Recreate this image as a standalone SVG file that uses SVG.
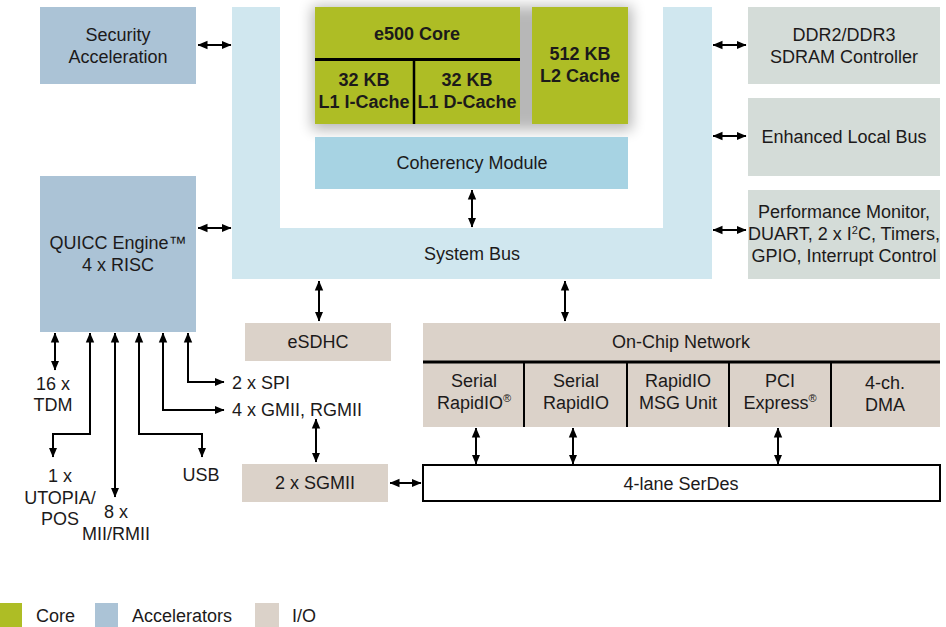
<svg xmlns="http://www.w3.org/2000/svg" width="946" height="627" viewBox="0 0 946 627">
<defs>
<style>
text{font-family:"Liberation Sans",Arial,sans-serif;font-size:18px;fill:#1c1a1a;text-anchor:middle}
.b{font-weight:bold}
.l{text-anchor:start}
.core{fill:#aebd25}
.acc{fill:#abc3d6}
.io{fill:#dbd2c9}
.gry{fill:#d4dcd8}
.bus{fill:#d0e7ef}
.coh{fill:#a7d3e3}
.c path{fill:none;stroke:#000;stroke-width:2;marker-start:url(#ah);marker-end:url(#ah)}
</style>
<marker id="ah" viewBox="0 0 10 10" refX="9.5" refY="5" markerWidth="10" markerHeight="10" markerUnits="userSpaceOnUse" orient="auto-start-reverse">
<path d="M0,0.8 L10,5 L0,9.2 z" fill="#000"/>
</marker>
<filter id="sh" x="-20%" y="-30%" width="140%" height="160%">
<feGaussianBlur stdDeviation="7"/>
</filter>
</defs>
<rect width="946" height="627" fill="#fff"/>

<g id="system-bus">
<path class="bus" d="M232,7 H280 V228 H663 V7 H712 V279 H232 Z"/>
<text x="472" y="260">System Bus</text>
</g>

<rect x="312" y="6" width="320" height="124" fill="#000" opacity="0.28" filter="url(#sh)"/>

<g id="e500-core">
<rect class="core" x="315" y="7" width="205" height="117"/>
<path d="M315,59.5 H520" stroke="#000" stroke-width="3"/>
<path d="M414,59 V124" stroke="#000" stroke-width="2.5"/>
<text class="b" x="417" y="40">e500 Core</text>
<text class="b" x="364" y="86">32 KB</text>
<text class="b" x="364" y="108">L1 I-Cache</text>
<text class="b" x="467" y="86">32 KB</text>
<text class="b" x="467" y="108">L1 D-Cache</text>
</g>

<g id="l2-cache">
<rect class="core" x="532" y="7" width="96" height="117"/>
<text class="b" x="580" y="60">512 KB</text>
<text class="b" x="580" y="82">L2 Cache</text>
</g>

<g id="coherency-module">
<rect class="coh" x="315" y="137" width="313" height="52"/>
<text x="472" y="169">Coherency Module</text>
</g>

<g id="security-acceleration">
<rect class="acc" x="40" y="7" width="156" height="77"/>
<text x="118" y="41">Security</text>
<text x="118" y="63">Acceleration</text>
</g>

<g id="quicc-engine">
<rect class="acc" x="40" y="176" width="156" height="156"/>
<text x="118" y="249">QUICC Engine™</text>
<text x="118" y="271">4 x RISC</text>
</g>

<g id="ddr-controller">
<rect class="gry" x="748" y="7" width="192" height="77"/>
<text x="844" y="41">DDR2/DDR3</text>
<text x="844" y="63">SDRAM Controller</text>
</g>

<g id="enhanced-local-bus">
<rect class="gry" x="748" y="98" width="192" height="78"/>
<text x="844" y="143">Enhanced Local Bus</text>
</g>

<g id="performance-monitor">
<rect class="gry" x="748" y="190" width="192" height="89"/>
<text x="844" y="218">Performance Monitor,</text>
<text x="844" y="240">DUART, 2 x I<tspan font-size="11" dy="-6">2</tspan><tspan dy="6">C, Timers,</tspan></text>
<text x="844" y="262">GPIO, Interrupt Control</text>
</g>

<g id="esdhc">
<rect class="io" x="245" y="323" width="146" height="38"/>
<text x="318" y="348">eSDHC</text>
</g>

<g id="on-chip-network">
<rect class="io" x="423" y="323" width="517" height="104"/>
<path d="M423,362 H940" stroke="#000" stroke-width="3"/>
<path d="M524,362 V427 M627,362 V427 M729,362 V427 M831,362 V427" stroke="#000" stroke-width="2"/>
<text x="681" y="348">On-Chip Network</text>
<text x="474" y="387">Serial</text>
<text x="474" y="409">RapidIO<tspan font-size="11" dy="-7">®</tspan></text>
<text x="576" y="387">Serial</text>
<text x="576" y="409">RapidIO</text>
<text x="678" y="387">RapidIO</text>
<text x="678" y="409">MSG Unit</text>
<text x="780" y="387">PCI</text>
<text x="780" y="409">Express<tspan font-size="11" dy="-7">®</tspan></text>
<text x="885" y="389">4-ch.</text>
<text x="885" y="411">DMA</text>
</g>

<g id="serdes">
<rect x="423" y="465" width="517" height="36" fill="#fff" stroke="#000" stroke-width="2"/>
<text x="681" y="490">4-lane SerDes</text>
</g>

<g id="sgmii">
<rect class="io" x="242" y="464" width="146" height="38"/>
<text x="315" y="489">2 x SGMII</text>
</g>

<g id="io-labels">
<text x="53" y="390">16 x</text>
<text x="53" y="411">TDM</text>
<text x="60" y="482">1 x</text>
<text x="60" y="504">UTOPIA/</text>
<text x="60" y="525">POS</text>
<text x="116" y="518">8 x</text>
<text x="116" y="540">MII/RMII</text>
<text x="201" y="481">USB</text>
<text class="l" x="232" y="389">2 x SPI</text>
<text class="l" x="232" y="416">4 x GMII, RGMII</text>
</g>

<g id="legend">
<rect class="core" x="0" y="603" width="22" height="24"/>
<text class="l" x="36" y="622">Core</text>
<rect class="acc" x="95" y="603" width="23" height="24"/>
<text class="l" x="132" y="622">Accelerators</text>
<rect class="io" x="255" y="603" width="24" height="24"/>
<text class="l" x="292" y="622">I/O</text>
</g>

<g id="connectors" class="c">
<path d="M198,45 H231"/>
<path d="M198,228 H231"/>
<path d="M713,45 H746"/>
<path d="M713,136 H746"/>
<path d="M713,230 H746"/>
<path d="M472,190 V227"/>
<path d="M319,281 V321"/>
<path d="M565,281 V321"/>
<path d="M316,419 V462"/>
<path d="M390,483 H421"/>
<path d="M476,428 V464"/>
<path d="M573,428 V464"/>
<path d="M778,428 V464"/>
<path d="M55,333 V370"/>
<path d="M90,333 V434 H53 V457"/>
<path d="M115,333 V497"/>
<path d="M139,333 V434 H202 V457"/>
<path d="M163,333 V410 H224"/>
<path d="M188,333 V382 H224"/>
</g>
</svg>
